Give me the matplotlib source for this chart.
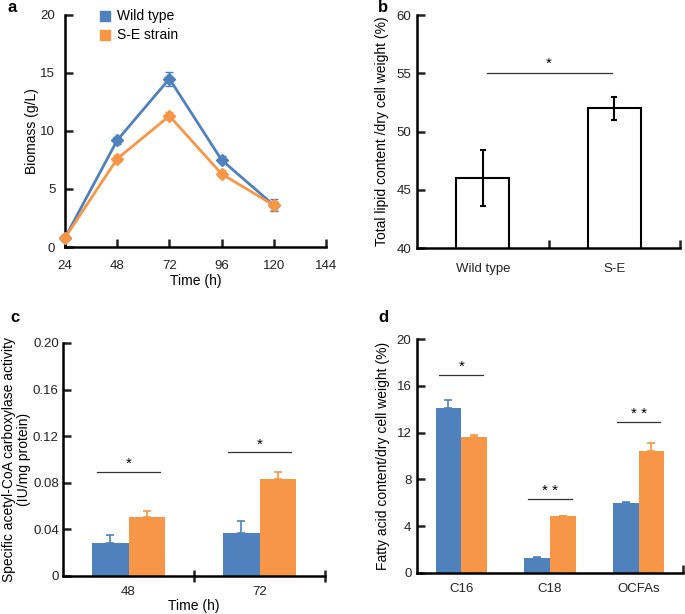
import matplotlib
matplotlib.use("Agg")
import matplotlib.pyplot as plt
import numpy as np

plt.rcParams['font.family'] = ['Liberation Sans', 'DejaVu Sans']
plt.rcParams['font.size'] = 9.5

BLUE = '#4f81bd'
ORANGE = '#f79646'
TXT = '#222222'

# panel a -- biomass
time_h = [24, 48, 72, 96, 120]
biomass_wt = [0.8, 9.2, 14.5, 7.5, 3.6]
biomass_wt_err = [0.2, 0.3, 0.6, 0.3, 0.5]
biomass_se = [0.8, 7.6, 11.3, 6.3, 3.6]
biomass_se_err = [0.2, 0.3, 0.3, 0.3, 0.4]

# panel b -- total lipid
lipid_labels = ['Wild type', 'S-E']
lipid_vals = [46.0, 52.0]
lipid_err = [2.4, 1.0]

# panel c -- ACC activity
acc_labels = ['48', '72']
acc_wt = [0.028, 0.037]
acc_wt_err = [0.007, 0.010]
acc_se = [0.051, 0.083]
acc_se_err = [0.005, 0.006]
acc_sig = [(0.089, '*'), (0.106, '*')]

# panel d -- fatty acid content
fa_labels = ['C16', 'C18', 'OCFAs']
fa_wt = [14.1, 1.3, 6.0]
fa_wt_err = [0.65, 0.1, 0.06]
fa_se = [11.6, 4.85, 10.4]
fa_se_err = [0.2, 0.05, 0.7]
fa_sig = [(16.9, '*'), (6.3, '* *'), (12.9, '* *')]

fig = plt.figure(figsize=(6.85, 6.14), dpi=100)

ax_a = fig.add_axes([0.0949, 0.5977, 0.381, 0.378])
ax_b = fig.add_axes([0.6088, 0.5960, 0.384, 0.3795])
ax_c = fig.add_axes([0.0920, 0.0619, 0.3825, 0.3795])
ax_d = fig.add_axes([0.6088, 0.0668, 0.388, 0.381])


def style_axes(ax, ypad):
    for side in ('top', 'right'):
        ax.spines[side].set_visible(False)
    for side in ('left', 'bottom'):
        ax.spines[side].set_linewidth(1.8)
    ax.tick_params(axis='both', which='both', direction='in', width=1.8,
                   length=6, labelsize=9.5, colors=TXT)
    ax.tick_params(axis='y', pad=ypad)


# ---- a
style_axes(ax_a, 7)
ax_a.errorbar(time_h, biomass_wt, yerr=biomass_wt_err, color=BLUE, lw=2,
              marker='D', ms=6, capsize=3, elinewidth=1, clip_on=False,
              zorder=3)
ax_a.errorbar(time_h, biomass_se, yerr=biomass_se_err, color=ORANGE, lw=2,
              marker='D', ms=6, capsize=3, elinewidth=1, clip_on=False,
              zorder=4)
ax_a.set_xlim(24, 144)
ax_a.set_ylim(0, 20)
ax_a.set_xticks([24, 48, 72, 96, 120, 144])
ax_a.set_yticks([0, 5, 10, 15, 20])
ax_a.tick_params(axis='x', pad=9)
ax_a.set_xlabel('Time (h)', fontsize=10)
ax_a.xaxis.set_label_coords(0.5, -0.118)
ax_a.set_ylabel('Biomass (g/L)', fontsize=10)
ax_a.yaxis.set_label_coords(-0.10, 0.5)
h1 = ax_a.scatter([], [], marker='s', s=55, color=BLUE)
h2 = ax_a.scatter([], [], marker='s', s=55, color=ORANGE)
ax_a.legend([h1, h2], ['Wild type', 'S-E strain'], loc='upper left',
            bbox_to_anchor=(0.1, 1.05), frameon=False, fontsize=10,
            handletextpad=0.3, labelspacing=0.35, borderaxespad=0,
            handlelength=1.2)

# ---- b
style_axes(ax_b, 4)
xb = np.arange(len(lipid_labels))
ax_b.bar(xb, lipid_vals, width=0.4, color='white', edgecolor='black',
         lw=1.5, zorder=2)
ax_b.errorbar(xb, lipid_vals, yerr=lipid_err, fmt='none', ecolor='black',
              elinewidth=1.5, capsize=2.5, capthick=1.5, zorder=3)
ax_b.set_xlim(-0.5, 1.5)
ax_b.set_ylim(40, 60)
ax_b.set_yticks([40, 45, 50, 55, 60])
ax_b.set_xticks(xb)
ax_b.set_xticklabels(lipid_labels)
ax_b.set_xticks([0.5, 1.5], minor=True)
ax_b.tick_params(axis='x', which='major', length=0, pad=11)
ax_b.set_ylabel('Total lipid content /dry cell weight (%)', fontsize=10)
ax_b.yaxis.set_label_coords(-0.105, 0.5)
ax_b.plot([0.03, 0.98], [55.05, 55.05], color='#333333', lw=0.9)
ax_b.text(0.5, 55.2, '*', ha='center', va='bottom', fontsize=11)


def grouped(ax, labels, wt, wt_err, se, se_err, width):
    x = np.arange(len(labels))
    ax.bar(x - width / 2, wt, width=width, color=BLUE, zorder=2)
    ax.bar(x + width / 2, se, width=width, color=ORANGE, zorder=2)
    ax.errorbar(x - width / 2, wt, yerr=[np.zeros(len(wt)), wt_err],
                fmt='none', ecolor=BLUE, elinewidth=1.2, capsize=3,
                capthick=1.2, zorder=1)
    ax.errorbar(x + width / 2, se, yerr=[np.zeros(len(se)), se_err],
                fmt='none', ecolor=ORANGE, elinewidth=1.2, capsize=3,
                capthick=1.2, zorder=1)
    ax.set_xlim(-0.5, len(labels) - 0.5)
    ax.set_xticks(x)
    ax.set_xticklabels(labels)
    ax.tick_params(axis='x', which='major', length=0, pad=7)
    return x


def sig_marks(ax, x, sig, width, dy):
    for xi, (yv, txt) in zip(x, sig):
        ax.plot([xi - width * 0.85, xi + width * 0.85], [yv, yv],
                color='#333333', lw=0.9)
        ax.text(xi, yv + dy, txt, ha='center', va='bottom', fontsize=11)


# ---- c
style_axes(ax_c, 3)
xc = grouped(ax_c, acc_labels, acc_wt, acc_wt_err, acc_se, acc_se_err, 0.28)
ax_c.set_ylim(0, 0.20)
ax_c.set_yticks([0, 0.04, 0.08, 0.12, 0.16, 0.20])
ax_c.set_yticklabels(['0', '0.04', '0.08', '0.12', '0.16', '0.20'])
ax_c.set_xticks([0.5, 1.5], minor=True)
ax_c.tick_params(axis='x', which='minor', direction='inout', length=8)
ax_c.set_xlabel('Time (h)', fontsize=10)
ax_c.xaxis.set_label_coords(0.5, -0.10)
ax_c.set_ylabel('Specific acetyl-CoA carboxylase activity\n(IU/mg protein)',
                fontsize=10, linespacing=1.1)
ax_c.yaxis.set_label_coords(-0.122, 0.5)
sig_marks(ax_c, xc, acc_sig, 0.28, 0.001)

# ---- d
style_axes(ax_d, 4)
xd = grouped(ax_d, fa_labels, fa_wt, fa_wt_err, fa_se, fa_se_err, 0.29)
ax_d.set_ylim(0, 20)
ax_d.set_yticks([0, 4, 8, 12, 16, 20])
ax_d.set_xticks([2.5], minor=True)
ax_d.tick_params(axis='x', which='minor', length=6)
ax_d.set_ylabel('Fatty acid content/dry cell weight (%)', fontsize=10)
ax_d.yaxis.set_label_coords(-0.10, 0.5)
sig_marks(ax_d, xd, fa_sig, 0.29, 0.1)

# panel letters
for lbl, (px, py) in zip('abcd', [(12, 8), (383, 8), (15, 318), (383, 318)]):
    fig.text(px / 685, 1 - py / 614, lbl, fontsize=12, fontweight='bold',
             ha='center', va='center')

fig.savefig('out.png', dpi=100)
